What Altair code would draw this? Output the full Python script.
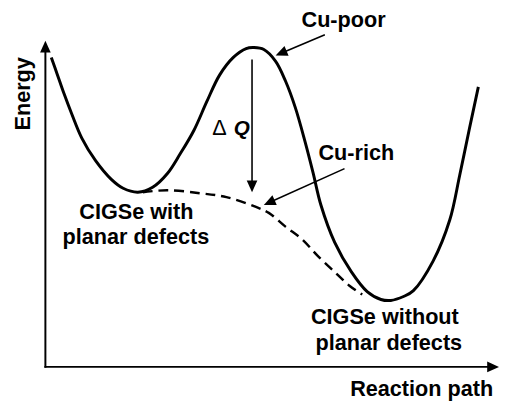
import math
import altair as alt
import pandas as pd

# ---- data (image-like coordinates: x to the right, y downward) ----
solid_x = [52, 58, 65, 73, 83, 97, 113, 125, 140, 155, 170, 183, 197, 210, 223, 237, 250, 258, 268, 280,
           290, 300, 310, 318, 326, 340, 357, 373, 387, 397, 410, 420, 440, 457, 467, 477, 486]
solid_y = [55, 72, 92, 113, 137, 160, 179, 188, 192, 187, 173, 153, 129, 100, 73, 55, 46, 45, 47, 59,
           79, 106, 141, 172, 205, 243, 273, 293, 301, 302, 298, 292, 262, 220, 175, 127, 85]

dash_x = [145, 170, 203, 230, 260, 273, 290, 307, 323, 340, 355, 368]
dash_y = [192, 190, 193, 197, 207, 213, 227, 240, 257, 273, 287, 296]

# axis arrows: start -> tip
axis_x1 = [46, 45]
axis_y1 = [370.5, 369.5]
axis_x2 = [46, 507]
axis_y2 = [38, 369.5]

# annotation arrows (ΔQ, Cu-poor, Cu-rich): start -> tip
arr_x1 = [256, 330, 350]
arr_y1 = [57, 32, 168]
arr_x2 = [256, 280, 268]
arr_y2 = [192, 53, 205]

center_labels = ["Cu-poor", "Cu-rich", "CIGSe with", "planar defects", "CIGSe without", "planar defects"]
center_x = [349, 362, 138.5, 138, 391, 395]
center_y = [24.3, 159, 219.5, 245, 326, 352]

xlabel = ["Reaction path"]
xlabel_x = [501]
xlabel_y = [399]

ylabel = ["Energy"]
ylabel_x = [30]
ylabel_y = [92]

dq_delta = ["Δ"]
dq_delta_x = [223]
dq_q = ["Q"]
dq_q_x = [245.5]
dq_y = [133.5]

FONT = "Liberation Sans"

# ---- scales ----
xs = alt.Scale(domain=[8, 508], nice=False, zero=False)
ys = alt.Scale(domain=[8, 403], nice=False, zero=False, reverse=True)


def X(f="x"):
    return alt.X(f"{f}:Q", scale=xs, axis=None)


def Y(f="y"):
    return alt.Y(f"{f}:Q", scale=ys, axis=None)


def shafts_and_heads(x1, y1, x2, y2):
    shafts, heads = [], []
    for a, b, c, d in zip(x1, y1, x2, y2):
        dx, dy = c - a, d - b
        L = math.hypot(dx, dy)
        ang = math.degrees(math.atan2(dx, -dy)) % 360
        shafts.append(dict(x=a, y=b, x2=c - 6 * dx / L, y2=d - 6 * dy / L))
        heads.append(dict(x=c, y=d, angle=ang))
    return pd.DataFrame(shafts), pd.DataFrame(heads)


solid_df = pd.DataFrame({"x": solid_x, "y": solid_y, "i": range(len(solid_x))})
dash_df = pd.DataFrame({"x": dash_x, "y": dash_y, "i": range(len(dash_x))})
ax_shaft, ax_head = shafts_and_heads(axis_x1, axis_y1, axis_x2, axis_y2)
ar_shaft, ar_head = shafts_and_heads(arr_x1, arr_y1, arr_x2, arr_y2)
heads_df = pd.concat([ax_head, ar_head], ignore_index=True)

solid = alt.Chart(solid_df).mark_line(
    interpolate="catmull-rom", color="black", strokeWidth=3
).encode(x=X(), y=Y(), order="i:Q")

dashed = alt.Chart(dash_df).mark_line(
    interpolate="catmull-rom", color="black", strokeWidth=2.5, strokeDash=[10, 6]
).encode(x=X(), y=Y(), order="i:Q")

axes = alt.Chart(ax_shaft).mark_rule(color="black", strokeWidth=2, strokeCap="butt").encode(
    x=X(), y=Y(), x2="x2:Q", y2="y2:Q")

arrows = alt.Chart(ar_shaft).mark_rule(color="black", strokeWidth=1.6, strokeCap="butt").encode(
    x=X(), y=Y(), x2="x2:Q", y2="y2:Q")

heads = alt.Chart(heads_df).mark_point(
    shape="M0,0L0.9,2L-0.9,2Z", filled=True, size=144, color="black", opacity=1
).encode(x=X(), y=Y(), angle=alt.Angle("angle:Q", scale=None))

txt_c = alt.Chart(pd.DataFrame({"t": center_labels, "x": center_x, "y": center_y})).mark_text(
    font=FONT, fontSize=22, fontWeight="bold", align="center", baseline="alphabetic", color="black"
).encode(x=X(), y=Y(), text="t:N")

txt_x = alt.Chart(pd.DataFrame({"t": xlabel, "x": xlabel_x, "y": xlabel_y})).mark_text(
    font=FONT, fontSize=22, fontWeight="bold", align="right", baseline="alphabetic", color="black"
).encode(x=X(), y=Y(), text="t:N")

txt_y = alt.Chart(pd.DataFrame({"t": ylabel, "x": ylabel_x, "y": ylabel_y})).mark_text(
    font=FONT, fontSize=22, fontWeight="bold", align="center", baseline="alphabetic", color="black",
    angle=270
).encode(x=X(), y=Y(), text="t:N")

txt_d = alt.Chart(pd.DataFrame({"t": dq_delta, "x": dq_delta_x, "y": dq_y})).mark_text(
    font=FONT, fontSize=22, fontWeight="normal", align="center", baseline="alphabetic",
    color="black"
).encode(x=X(), y=Y(), text="t:N")

txt_q = alt.Chart(pd.DataFrame({"t": dq_q, "x": dq_q_x, "y": dq_y})).mark_text(
    font=FONT, fontSize=21, fontWeight="bold", fontStyle="italic", align="center",
    baseline="alphabetic", color="black"
).encode(x=X(), y=Y(), text="t:N")

chart = alt.layer(
    dashed, solid, axes, arrows, heads, txt_c, txt_x, txt_y, txt_d, txt_q
).properties(
    width=500, height=395, padding=0, autosize=alt.AutoSizeParams(type="none"),
    background="white"
).configure_view(stroke=None)

chart.save("out.html", embed_options={"renderer": "svg", "actions": False})
